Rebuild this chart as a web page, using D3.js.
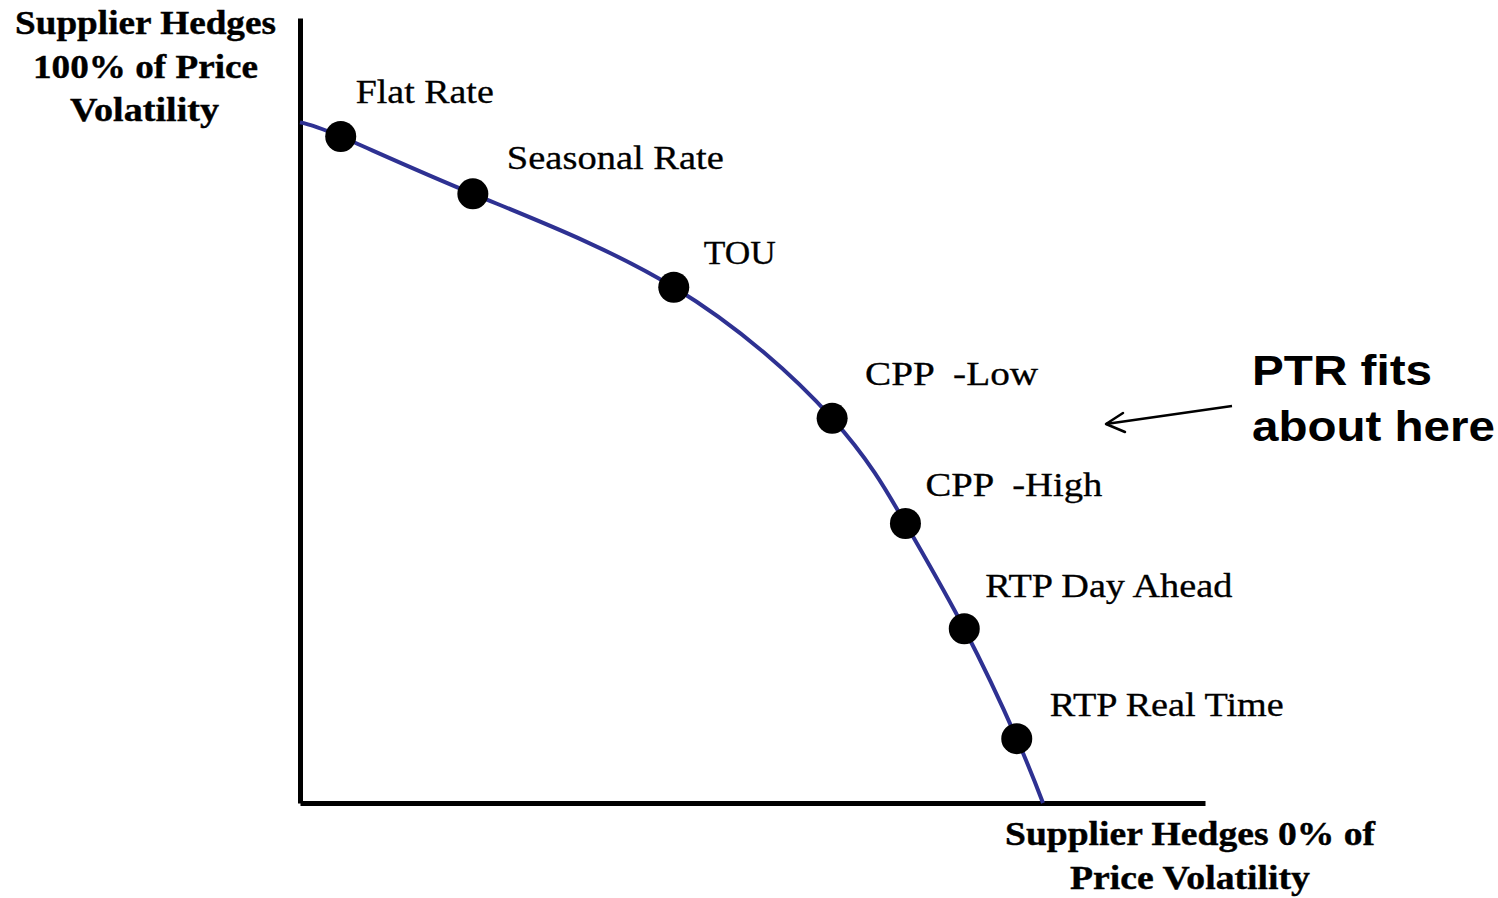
<!DOCTYPE html>
<html>
<head>
<meta charset="utf-8">
<script src="https://cdn.jsdelivr.net/npm/d3@7"></script>
<style>
  html, body { margin: 0; padding: 0; background: #ffffff; }
  svg { display: block; }
  text { white-space: pre; }
</style>
</head>
<body>
<svg id="chart" width="1498" height="898"></svg>
<script>
// ---- data (% of price volatility scale 0-100) ----
const tariffNames = ["Flat Rate", "Seasonal Rate", "TOU", "CPP  -Low", "CPP  -High", "RTP Day Ahead", "RTP Real Time"];
const tariffX = [4.5, 19.1, 41.3, 58.8, 66.9, 73.4, 79.2];
const tariffY = [84.9, 77.6, 65.7, 49.0, 35.6, 22.2, 8.2];
// frontier curve: starts on the vertical axis, ends on the horizontal axis
const frontierStart = [0, 86.7];
const frontierEnd = [82.1, 0];
const yTitleLines = ["Supplier Hedges", "100% of Price", "Volatility"];
const xTitleLines = ["Supplier Hedges 0% of", "Price Volatility"];
const noteLines = ["PTR fits", "about here"];

// ---- layout ----
const svg = d3.select("#chart");
const x = d3.scaleLinear().domain([0, 100]).range([300, 1205]);
const y = d3.scaleLinear().domain([0, 100]).range([803, 18]);

// axes (no ticks)
svg.append("g")
  .attr("transform", `translate(0,${y(0)})`)
  .call(d3.axisBottom(x).ticks(0).tickSize(0).tickSizeOuter(0))
  .call(g => g.select(".domain").attr("stroke", "#000").attr("stroke-width", 5));
svg.append("g")
  .attr("transform", `translate(${x(0)},0)`)
  .call(d3.axisLeft(y).ticks(0).tickSize(0).tickSizeOuter(0))
  .call(g => g.select(".domain").attr("stroke", "#000").attr("stroke-width", 5));

// frontier curve
const curvePts = [frontierStart]
  .concat(tariffX.map((v, i) => [v, tariffY[i]]))
  .concat([frontierEnd]);
const line = d3.line()
  .x(d => x(d[0])).y(d => y(d[1]))
  .curve(d3.curveNatural);
svg.append("path")
  .datum(curvePts)
  .attr("d", line)
  .attr("fill", "none")
  .attr("stroke", "#2e3192")
  .attr("stroke-width", 4);

// points
svg.selectAll("circle.pt")
  .data(tariffNames)
  .enter().append("circle")
  .attr("class", "pt")
  .attr("cx", (d, i) => x(tariffX[i]))
  .attr("cy", (d, i) => y(tariffY[i]))
  .attr("r", 15.5)
  .attr("fill", "#000");

// point labels
const labelDx = [15, 34, 30, 33, 20, 21, 33];
const labelDy = [-34, -25, -23, -33, -28, -32, -23];
const labelW = [138, 217, 72, 173, 177, 247, 234];
svg.selectAll("text.lbl")
  .data(tariffNames)
  .enter().append("text")
  .attr("class", "lbl")
  .attr("x", (d, i) => x(tariffX[i]) + labelDx[i])
  .attr("y", (d, i) => y(tariffY[i]) + labelDy[i])
  .attr("textLength", (d, i) => labelW[i])
  .attr("lengthAdjust", "spacingAndGlyphs")
  .attr("font-family", "'Liberation Serif', 'Times New Roman', serif")
  .attr("font-size", 33)
  .attr("fill", "#000")
  .attr("stroke", "#000").attr("stroke-width", 0.3)
  .text(d => d);

// y-axis title (top-left)
const yTitlePos = [[15, 34, 261], [33, 78, 225], [70, 121, 149]];
svg.selectAll("text.ytitle")
  .data(yTitleLines)
  .enter().append("text")
  .attr("class", "ytitle")
  .attr("x", (d, i) => yTitlePos[i][0])
  .attr("y", (d, i) => yTitlePos[i][1])
  .attr("textLength", (d, i) => yTitlePos[i][2])
  .attr("lengthAdjust", "spacingAndGlyphs")
  .attr("font-family", "'Liberation Serif', 'Times New Roman', serif")
  .attr("font-weight", "bold")
  .attr("font-size", 34)
  .attr("fill", "#000")
  .attr("stroke", "#000").attr("stroke-width", 0.4)
  .text(d => d);

// x-axis title (bottom-right)
const xTitlePos = [[1005, 845, 370], [1070, 889, 240]];
svg.selectAll("text.xtitle")
  .data(xTitleLines)
  .enter().append("text")
  .attr("class", "xtitle")
  .attr("x", (d, i) => xTitlePos[i][0])
  .attr("y", (d, i) => xTitlePos[i][1])
  .attr("textLength", (d, i) => xTitlePos[i][2])
  .attr("lengthAdjust", "spacingAndGlyphs")
  .attr("font-family", "'Liberation Serif', 'Times New Roman', serif")
  .attr("font-weight", "bold")
  .attr("font-size", 34)
  .attr("fill", "#000")
  .attr("stroke", "#000").attr("stroke-width", 0.4)
  .text(d => d);

// annotation
const notePos = [[1252, 385, 180], [1252, 441, 243]];
svg.selectAll("text.note")
  .data(noteLines)
  .enter().append("text")
  .attr("class", "note")
  .attr("x", (d, i) => notePos[i][0])
  .attr("y", (d, i) => notePos[i][1])
  .attr("textLength", (d, i) => notePos[i][2])
  .attr("lengthAdjust", "spacingAndGlyphs")
  .attr("font-family", "'Liberation Sans', Arial, sans-serif")
  .attr("font-weight", "bold")
  .attr("font-size", 42)
  .attr("fill", "#000")
  .text(d => d);

// arrow
const ax0 = 1232, ay0 = 406, ax1 = 1106, ay1 = 424;
svg.append("path")
  .attr("d", `M${ax0},${ay0}L${ax1},${ay1}`)
  .attr("stroke", "#000").attr("stroke-width", 2.5).attr("fill", "none");
svg.append("path")
  .attr("d", `M${ax1 + 17},${ay1 - 11}L${ax1},${ay1}L${ax1 + 19},${ay1 + 8}`)
  .attr("stroke", "#000").attr("stroke-width", 2.5).attr("fill", "none")
  .attr("stroke-linecap", "round").attr("stroke-linejoin", "round");
</script>
</body>
</html>
